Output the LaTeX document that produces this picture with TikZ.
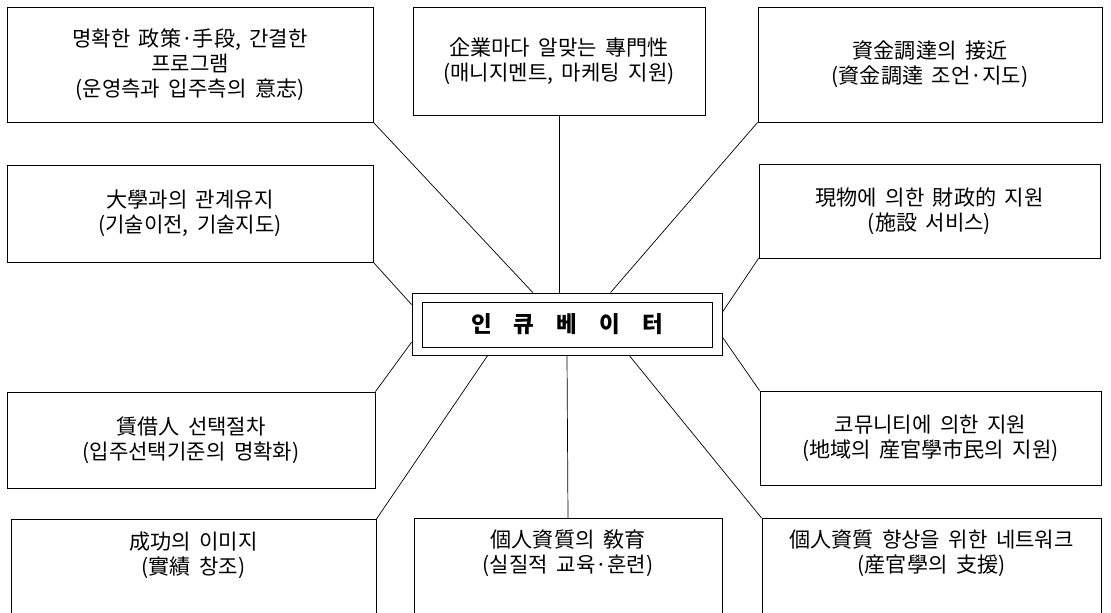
\documentclass[tikz,border=0pt]{standalone}
\usepackage{fontspec}
\setmainfont{Noto Sans CJK KR}[WordSpace=1.8]
\usetikzlibrary{calc}

\begin{document}
\begin{tikzpicture}[x=0.025cm, y=-0.025cm,
						box/.style={draw=black, line width=0.6pt, align=center, inner sep=0pt, font=\fontsize{15}{18}\selectfont},
						frame/.style={draw=black, line width=0.6pt, anchor=north, minimum height=3.2cm},
						txt/.style={align=center, inner sep=0pt, font=\fontsize{15}{18}\selectfont},
						hub/.style={draw=black, line width=0.6pt, minimum width=7.75cm, minimum height=1.55cm},
						edge/.style={line width=0.5pt}
						]
						\useasboundingbox (0,0) rectangle (1111,612);
						\clip (0,0) rectangle (1111,612);
						
						\node[box, minimum width=9.15cm, minimum height=2.875cm] (goal) at (190,64.5) {명확한 政策·手段, 간결한\\프로그램\\(운영측과 입주측의 意志)};
						\node[box, minimum width=7.3cm, minimum height=2.7cm] (expert) at (559,61) {企業마다 알맞는 專門性\\(매니지멘트, 마케팅 지원)};
						\node[box, minimum width=8.6cm, minimum height=2.875cm] (fund) at (930,64.5) {資金調達의 接近\\(資金調達 조언·지도)};
						\node[box, minimum width=9.15cm, minimum height=2.425cm] (univ) at (190,213.5) {大學과의 관계유지\\(기술이전, 기술지도)};
						\node[box, minimum width=8.525cm, minimum height=2.35cm] (facil) at (929.5,211) {現物에 의한 財政的 지원\\(施設 서비스)};
						\node[box, minimum width=9.2cm, minimum height=2.4cm] (tenant) at (191,440) {賃借人 선택절차\\(입주선택기준의 명확화)};
						\node[box, minimum width=8.525cm, minimum height=2.35cm] (comm) at (930.5,438) {코뮤니티에 의한 지원\\(地域의 産官學市民의 지원)};
						
						% center
						\node[hub] (inc) at (567,324) {};
						\node[draw=black, line width=0.6pt, minimum width=7.25cm, minimum height=1.125cm, font=\fontsize{16}{18}\selectfont\bfseries] (incin) at (567,324.5) {인\hspace{0.55cm}큐\hspace{0.55cm}베\hspace{0.55cm}이\hspace{0.55cm}터};
						
						% bottom row, open at the lower edge
						\node[frame, minimum width=9.125cm] (succ) at (193.5,519) {};
						\node[txt] (succt) at (193.5,555) {成功의 이미지\\(實績 창조)};
						\node[frame, minimum width=7.7cm] (edu) at (568,518) {};
						\node[txt] (edut) at (568,553) {個人資質의 敎育\\(실질적 교육·훈련)};
						\node[frame, minimum width=8.475cm] (net) at (931.5,518) {};
						\node[txt] (nett) at (931.5,553) {個人資質 향상을 위한 네트워크\\(産官學의 支援)};
						
						\draw[edge] (goal.south east) -- ($(inc.north west)!0.39!(inc.north east)$);
						\draw[edge] (expert.south) -- (expert.south |- inc.north);
						\draw[edge] (fund.south west) -- ($(inc.north west)!0.64!(inc.north east)$);
						\draw[edge] (univ.south east) -- ($(inc.north west)!0.19!(inc.south west)$);
						\draw[edge] (facil.south west) -- ($(inc.north east)!0.31!(inc.south east)$);
						\draw[edge] (tenant.north east) -- ($(inc.north west)!0.79!(inc.south west)$);
						\draw[edge] (comm.north west) -- ($(inc.north east)!0.71!(inc.south east)$);
						\draw[edge] (succ.north east) -- ($(inc.south west)!0.245!(inc.south east)$);
						\draw[edge] (edu.north) -- (inc.south);
						\draw[edge] (net.north west) -- ($(inc.south west)!0.70!(inc.south east)$);
					\end{tikzpicture}
\end{document}
